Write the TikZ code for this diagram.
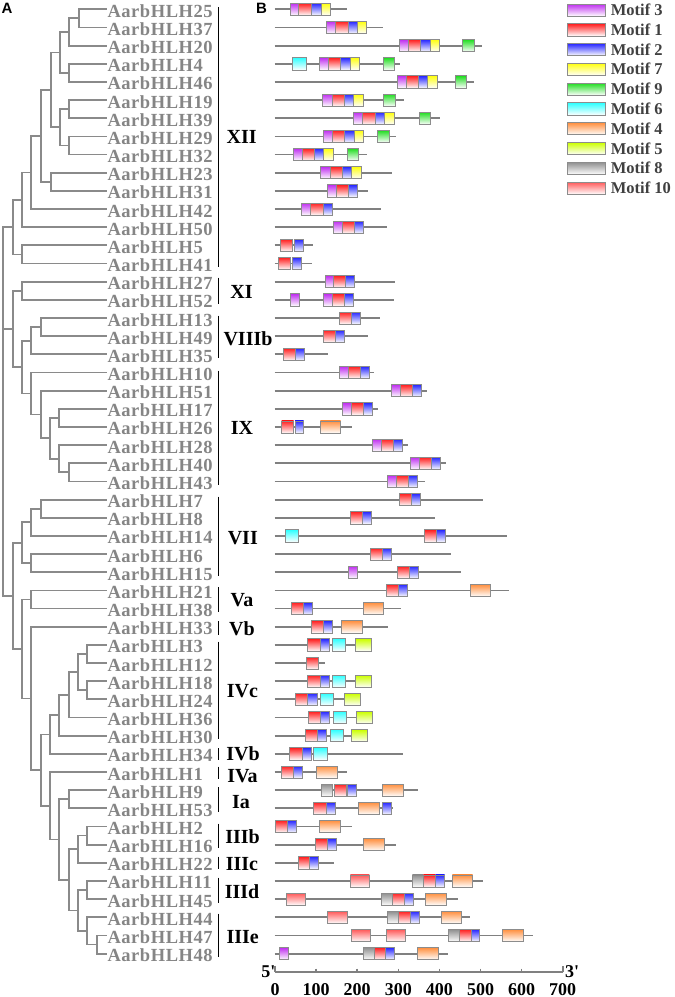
\documentclass[tikz,border=0pt]{standalone}
\usepackage{fontspec}
\setmainfont{Liberation Serif}
\newfontfamily\lsans{Liberation Sans}
\newfontfamily\glabfont[LetterSpace=3]{Liberation Serif}
\definecolor{treegray}{HTML}{8A8A8A}
\definecolor{labgray}{HTML}{858585}
\definecolor{linegray}{HTML}{808080}
\definecolor{boxgray}{HTML}{8C8C8C}
\definecolor{legtext}{HTML}{404040}
\definecolor{c3}{HTML}{C030F0}
\definecolor{c1}{HTML}{FF2020}
\definecolor{c2}{HTML}{2828FF}
\definecolor{c7}{HTML}{FFFF10}
\definecolor{c9}{HTML}{22DD22}
\definecolor{c6}{HTML}{30FFFF}
\definecolor{c4}{HTML}{FF9040}
\definecolor{c5}{HTML}{CCFF00}
\definecolor{c8}{HTML}{909090}
\definecolor{c10}{HTML}{FF5A5A}
\tikzset{
  tree/.style={draw=treegray, line width=1.8pt},
  glabel/.style={anchor=base west, inner sep=0pt, text=labgray,
    font=\glabfont\bfseries\fontsize{18.5}{18.5}\selectfont},
  grp/.style={anchor=center, inner sep=0pt, text=black,
    font=\bfseries\fontsize{20}{20}\selectfont},
  gbar/.style={draw=black, line width=1.4pt},
  gline/.style={draw=linegray, line width=1.8pt},
  mot/.style={draw=boxgray, line width=0.9pt, top color=c#1, bottom color=white},
  legtxt/.style={anchor=base west, inner sep=0pt, text=legtext,
    font=\bfseries\fontsize{16.5}{16.5}\selectfont},
  axlab/.style={anchor=base, inner sep=0pt, text=black,
    font=\bfseries\fontsize{18}{18}\selectfont},
  panel/.style={anchor=north west, inner sep=0pt,
    font=\lsans\bfseries\fontsize{15}{15}\selectfont},
  axline/.style={draw=linegray, line width=1.6pt}
}
\begin{document}
\begin{tikzpicture}[x=1pt,y=-1pt]
\useasboundingbox (0,0) rectangle (675,997);

% panel letters
\node[panel] (pA) at (1.5,2.5) {A};
\node[panel] (pB) at (256,3) {B};

% leaves and labels
\foreach \g [count=\i from 0] in {25,37,20,4,46,19,39,29,32,23,31,42,50,5,41,27,52,13,49,35,10,51,17,26,28,40,43,7,8,14,6,15,21,38,33,3,12,18,24,36,30,34,1,9,53,2,16,22,11,45,44,47,48}{
  \coordinate (L\i) at (107,{9.3+18.16*\i});
  \node[glabel] (G\i) at (107.3,{17.3+18.16*\i}) {AarbHLH\g};
}

% internal tree nodes
\coordinate (na) at (78.7,18.38);
\coordinate (nb) at (69.3,32.0);
\coordinate (nc) at (69.3,72.86);
\coordinate (nd) at (60,52.43);
\coordinate (ne) at (69.3,109.18);
\coordinate (nf) at (69.3,145.5);
\coordinate (ng) at (60,127.34);
\coordinate (nh) at (50.7,89.89);
\coordinate (ni) at (50.7,181.82);
\coordinate (nj) at (40.7,135.86);
\coordinate (nk) at (31.3,172.46);
\coordinate (nl) at (22,199.84);
\coordinate (nm) at (22,254.46);
\coordinate (nn) at (12.7,227.15);
\coordinate (no) at (22,290.78);
\coordinate (np) at (40.7,327.1);
\coordinate (nq) at (31.3,340.72);
\coordinate (nr) at (59.3,417.9);
\coordinate (ns) at (68.7,472.38);
\coordinate (nt) at (59.3,458.76);
\coordinate (nu) at (50,438.33);
\coordinate (nv) at (40.7,414.5);
\coordinate (nw) at (31.3,393.5);
\coordinate (nx) at (22,367.11);
\coordinate (ny) at (12.7,328.95);
\coordinate (nA) at (40.7,508.7);
\coordinate (nB) at (31.3,522.32);
\coordinate (nC) at (31.3,563.18);
\coordinate (nD) at (22,542.75);
\coordinate (nE) at (31.3,599.5);
\coordinate (nF) at (87.3,653.98);
\coordinate (nG) at (87.3,690.3);
\coordinate (nH) at (78,672.14);
\coordinate (nI) at (68.7,694.84);
\coordinate (nJ) at (59.3,715.27);
\coordinate (nK) at (50,734.57);
\coordinate (nL) at (68.7,799.26);
\coordinate (nM) at (87.3,835.58);
\coordinate (nN) at (78,849.2);
\coordinate (nO) at (87.3,890.06);
\coordinate (nP) at (96.7,944.54);
\coordinate (nQ) at (87.3,930.92);
\coordinate (nR) at (78,910.49);
\coordinate (nS) at (68.7,879.85);
\coordinate (nT) at (59.3,839.56);
\coordinate (nU) at (50,805.79);
\coordinate (nV) at (40.7,770.18);
\coordinate (nW) at (31.3,698.46);
\coordinate (nX) at (22,648.98);
\coordinate (nY) at (12.7,595.87);
\coordinate (nZ) at (3.3,411.51);

\foreach \p/\c in {na/L0,na/L1,nb/na,nb/L2,nc/L3,nc/L4,nd/nb,nd/nc,ne/L5,ne/L6,nf/L7,nf/L8,ng/ne,ng/nf,nh/nd,nh/ng,ni/L9,ni/L10,nj/nh,nj/ni,nk/nj,nk/L11,nl/nk,nl/L12,nm/L13,nm/L14,nn/nl,nn/nm,
 no/L15,no/L16,np/L17,np/L18,nq/np,nq/L19,nr/L22,nr/L23,ns/L25,ns/L26,nt/L24,nt/ns,nu/nr,nu/nt,nv/L21,nv/nu,nw/L20,nw/nv,nx/nq,nx/nw,ny/no,ny/nx,
 nA/L27,nA/L28,nB/nA,nB/L29,nC/L30,nC/L31,nD/nB,nD/nC,nE/L32,nE/L33,nF/L35,nF/L36,nG/L37,nG/L38,nH/nF,nH/nG,nI/nH,nI/L39,nJ/nI,nJ/L40,nK/nJ,nK/L41,
 nL/L43,nL/L44,nM/L45,nM/L46,nN/nM,nN/L47,nO/L48,nO/L49,nP/L51,nP/L52,nQ/L50,nQ/nP,nR/nO,nR/nQ,nS/nN,nS/nR,nT/nL,nT/nS,nU/L42,nU/nT,nV/nK,nV/nU,nW/L34,nW/nV,nX/nE,nX/nW,nY/nD,nY/nX,
 nZ/nn,nZ/ny,nZ/nY}{
  \draw[tree] (\p) |- (\c);
}

% group bars
\foreach \a/\b in {7/267, 277.5/303.5, 315.5/357.5, 370.5/485, 496.5/576, 587/611.5, 621/634.5, 641.5/739, 748/760, 766.5/778.5, 787/811.5, 823.5/848, 856.5/869, 877.5/902.5, 913.5/956.5}{
  \draw[gbar] (218.7,\a) -- (218.7,\b);
}

% group labels
\node[grp] (gXII) at (241.7,136.8) {XII};
\node[grp] (gXI) at (241.5,291.7) {XI};
\node[grp] (gVIIIb) at (248,338.3) {VIIIb};
\node[grp] (gIX) at (242,428.3) {IX};
\node[grp] (gVII) at (242.8,538.3) {VII};
\node[grp] (gVa) at (242,600.5) {Va};
\node[grp] (gVb) at (242,628.3) {Vb};
\node[grp] (gIVc) at (242.5,690.8) {IVc};
\node[grp] (gIVb) at (243,754) {IVb};
\node[grp] (gIVa) at (242.5,775.8) {IVa};
\node[grp] (gIa) at (241,801.7) {Ia};
\node[grp] (gIIIb) at (242.5,836.7) {IIIb};
\node[grp] (gIIIc) at (242,864.5) {IIIc};
\node[grp] (gIIId) at (242,892) {IIId};
\node[grp] (gIIIe) at (242.7,936.7) {IIIe};

% gene lines
\foreach \r/\e in {0/346.7,1/382.7,2/482.3,3/399.7,4/474,5/404,6/440,7/395.7,8/367.3,9/392.3,10/368.3,11/381,12/387,13/313.3,14/312,15/395.3,16/394,17/379.7,18/368.3,19/328.3,20/374.3,21/427.3,22/377.7,23/351.7,24/408.3,25/446,26/425,27/482.7,28/435,29/506.7,30/450.7,31/460.7,32/509,33/401.3,34/387.7,35/372,36/325.3,37/372,38/361.3,39/373,40/367.7,41/402.7,42/346.7,43/418.3,44/393.3,45/351.7,46/395.7,47/334,48/482.7,49/458.3,50/470,51/533.3,52/448}{
  \draw[gline] (274.5,{9.3+18.16*\r}) -- (\e,{9.3+18.16*\r});
}

% motif boxes
\foreach \r/\t/\a/\b in {
0/3/290.7/298.7,0/1/298.7/311.3,0/2/311.3/321,0/7/321/330.7,
1/3/326.3/335.7,1/1/335.7/348,1/2/348/357,1/7/357/366.7,
2/3/399.3/408.3,2/1/408.3/420.7,2/2/420.7/430,2/7/430/439.7,2/9/462.7/474.3,
3/6/292.7/306,3/3/319.3/328.3,3/1/328.3/340.7,3/2/340.7/350,3/7/350/359.7,3/9/383/394.7,
4/3/397/406,4/1/406/418.3,4/2/418.3/427.7,4/7/427.7/437.3,4/9/455/466.7,
5/3/322.7/332,5/1/332/344,5/2/344/353.3,5/7/353.3/363,5/9/383.3/395,
6/3/353.7/362.7,6/1/362.7/375,6/2/375/384.3,6/7/384.3/394,6/9/419.3/430.7,
7/3/323.3/332.3,7/1/332.3/344.7,7/2/344.7/354,7/7/354/363.7,7/9/377.3/389,
8/3/293.3/302.3,8/1/302.3/314.3,8/2/314.3/323.3,8/7/323.3/333.3,8/9/347.3/358.7,
9/3/320.7/330,9/1/330/342,9/2/342/351.3,9/7/351.3/361,
10/3/327.3/336.7,10/1/336.7/348.7,10/2/348.7/357.3,
11/3/301.7/310.7,11/1/310.7/323,11/2/323/332,
12/3/333.7/342.7,12/1/342.7/354.7,12/2/354.7/363.3,
13/1/280/292.3,13/2/294.3/303.3,
14/1/278.3/290,14/2/292.7/301.7,
15/3/325/333.7,15/1/333.7/345.7,15/2/345.7/354.7,
16/3/290.7/299.3,16/3/323.3/332.3,16/1/332.3/344.3,16/2/344.3/353.3,
17/1/339.3/351.3,17/2/351.3/360.3,
18/1/323.3/335.3,18/2/335.3/344.3,
19/1/283.3/295.3,19/2/295.3/304.7,
20/3/339.3/348.3,20/1/348.3/360.3,20/2/360.3/369.3,
21/3/391.7/400.7,21/1/400.7/412.7,21/2/412.7/421.7,
22/3/342.3/351.3,22/1/351.3/363.3,22/2/363.3/372.3,
23/1/281.7/293.7,23/2/295/303.7,23/4/320.3/340.7,
24/3/372.3/381.3,24/1/381.3/393.3,24/2/393.3/402.3,
25/3/410.3/419.3,25/1/419.3/431.3,25/2/431.3/440.7,
26/3/387/396,26/1/396/408,26/2/408/417,
27/1/399.3/411.3,27/2/411.3/420.3,
28/1/350.3/362.3,28/2/362.3/371.3,
29/6/285.3/298.7,29/1/424.3/436.3,29/2/436.3/445.3,
30/1/370.3/382.3,30/2/382.3/391.7,
31/3/348.3/357,31/1/397.7/409.7,31/2/409.7/418.7,
32/1/386/398,32/2/398/407.3,32/4/470/490.3,
33/1/291.3/303.3,33/2/303.3/312.7,33/4/363/383.7,
34/1/311/323,34/2/323/332,34/4/341.3/362.3,
35/1/307.7/320,35/2/320/329.3,35/6/332.3/345.7,35/5/355/371.3,
36/1/306.3/318.7,
37/1/307.7/320,37/2/320/329.3,37/6/332.3/345.7,37/5/355/371.3,
38/1/295.3/307.7,38/2/307.7/317,38/6/320.3/333.7,38/5/344.3/360.7,
39/1/308/320.3,39/2/320.3/329.7,39/6/333/346.3,39/5/356.3/372.7,
40/1/305/317.3,40/2/317.3/326.7,40/6/330/343.3,40/5/351/367.3,
41/1/289.3/302,41/2/302/311,41/6/313.3/327.7,
42/1/281/293.3,42/2/293.3/302.3,42/4/316.7/337.3,
43/8/321.7/332.3,43/1/334/346,43/2/347.3/356,43/4/382.3/403,
44/1/313.7/326,44/2/326/335.7,44/4/358.3/379.3,44/2/382.3/391,
45/1/275.3/287.3,45/2/287.3/296.7,45/4/319.3/340,
46/1/315.7/327.3,46/2/327.3/336.7,46/4/363.7/384.3,
47/1/298/309.3,47/2/309.3/318.7,
48/10/350.3/369.3,48/8/412.3/423.3,48/1/423.3/435.7,48/2/435.7/444.7,48/4/452.3/472.7,
49/10/286/305.7,49/8/381.3/392.3,49/1/392.3/404.3,49/2/404.3/413.3,49/4/425.7/446.3,
50/10/327.7/347,50/8/387.7/398.7,50/1/398.7/410.7,50/2/410.7/419.7,50/4/441/461.7,
51/10/351.3/370.7,51/10/386.7/405.7,51/8/448/459,51/1/459/471,51/2/471/479.7,51/4/502.3/523,
52/3/279.3/288.3,52/8/363/374,52/1/374/385.7,52/2/385.7/394.3,52/4/417.3/438}{
  \draw[mot=\t] (\a,{9.3+18.16*\r-6}) rectangle (\b,{9.3+18.16*\r+6.2});
}

% legend
\foreach \m [count=\k from 0] in {3,1,2,7,9,6,4,5,8,10}{
  \draw[mot=\m] (567.3,{10+19.78*\k-6}) rectangle (605,{10+19.78*\k+6.2});
  \node[legtxt] (leg\k) at (610.7,{15.6+19.78*\k}) {Motif \m};
}

% axis
\coordinate (ax0) at (275,971.7);
\coordinate (ax1) at (562.7,971.7);
\draw[axline] (ax0) -- (ax1);
\draw[axline] (275,965.5) -- (ax0);
\draw[axline] (ax1) -- (562.7,965.5);
\foreach \k in {1,...,6}{
  \draw[axline] ({275+41.1*\k},968.5) -- ({275+41.1*\k},971.7);
}
\foreach \k in {0,...,7}{
  \node[axlab] (tk\k) at ({275+41.1*\k},995) {\pgfmathparse{int(100*\k)}\pgfmathresult};
}
\node[axlab, anchor=base east] (five) at (275.5,977) {5\textquotesingle};
\node[axlab, anchor=base west] (three) at (565,977) {3\textquotesingle};
\end{tikzpicture}
\end{document}
